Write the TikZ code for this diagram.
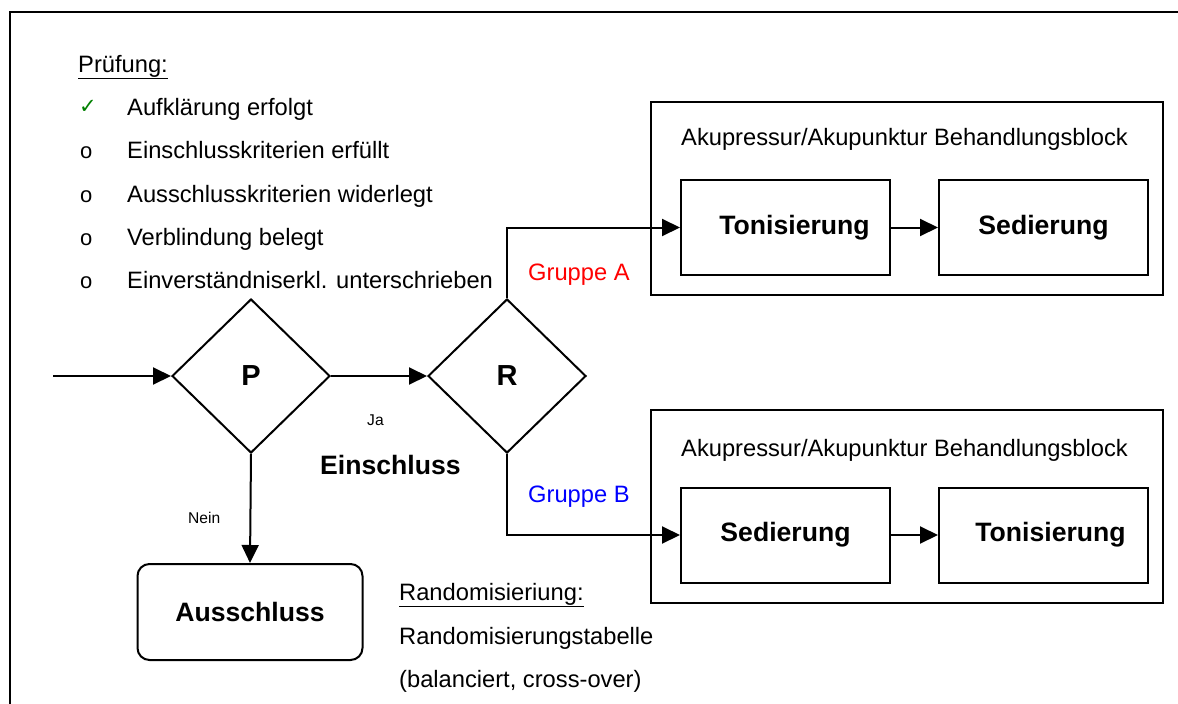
\documentclass[tikz,border=0pt]{standalone}
\usepackage{fontspec}
\setmainfont{Liberation Sans}
\newfontfamily\dejavu{DejaVu Sans}
\usepackage{tikz}
\usetikzlibrary{arrows.meta,positioning,shapes.geometric}
\definecolor{okgreen}{RGB}{0,128,0}
\definecolor{grpa}{RGB}{255,0,0}
\definecolor{grpb}{RGB}{0,0,255}
\tikzset{
  flow/.style={-{Triangle[length=18pt,width=17pt]},line width=2pt},
  boldtxt/.style={font=\fontsize{26.6}{30}\selectfont\bfseries},
  plain/.style={font=\fontsize{23.7}{28}\selectfont,anchor=base west,inner sep=0pt}
}
\begin{document}
\begin{tikzpicture}[x=1pt,y=-1pt,
  tiny/.style={font=\fontsize{15.6}{18}\selectfont,anchor=base west,inner sep=0pt},
  dec/.style={draw,diamond,line width=2pt,minimum width=158pt,minimum height=154pt,inner sep=0pt,
    font=\fontsize{29}{32}\selectfont\bfseries},
  stepbox/.style={draw,line width=2pt,minimum width=209pt,minimum height=95pt,inner sep=0pt,boldtxt},
  blk/.style={draw,line width=2pt,minimum width=512pt,minimum height=193pt,inner sep=0pt},
  bul/.style={font=\fontsize{22}{24}\selectfont,anchor=base west,inner sep=0pt}]
\useasboundingbox (0,0) rectangle (1178,704);
% frame
\draw[line width=2pt] (10,704) -- (10,12) -- (1178,12);
% check list
\node[plain] (pruef) at (78,72) {\underline{Prüfung:}};
\node[bul,text=okgreen] (b1) at (79,113) {\dejavu\fontsize{21}{24}\selectfont ✓};
\node[bul] (b2) at (80,158) {o};
\node[bul] (b3) at (80,202) {o};
\node[bul] (b4) at (80,245) {o};
\node[bul] (b5) at (80,288) {o};
\node[plain] (i1) at (127,115) {Aufklärung erfolgt};
\node[plain] (i2) at (127,158) {Einschlusskriterien erfüllt};
\node[plain] (i3) at (127,202) {Ausschlusskriterien widerlegt};
\node[plain] (i4) at (127,245) {Verblindung belegt};
\node[plain] (i5) at (127,288) {Einverständniserkl. unterschrieben};
% decisions
\coordinate (start) at (53,376);
\node[dec] (P) at (251,376) {P};
\node[dec] (R) at (507,376) {R};
\node[draw,rounded corners=12pt,line width=2pt,minimum width=225pt,
  minimum height=96pt,boldtxt] (Aus) at (250,612) {Ausschluss};
% treatment blocks
\node[blk] (blkA) at (907,198.5) {};
\node[blk] (blkB) at (907,506.5) {};
\node[plain] (titA) at (681,145) {Akupressur/Akupunktur Behandlungsblock};
\node[plain] (titB) at (681,456) {Akupressur/Akupunktur Behandlungsblock};
\node[stepbox,text width=209pt,align=center] (TonA) at (785.5,227.5) {\hspace*{18pt}Tonisierung};
\node[stepbox] (SedA) at (1043.5,227.5) {Sedierung};
\node[stepbox] (SedB) at (785.5,535) {Sedierung};
\node[stepbox,text width=209pt,align=center] (TonB) at (1043.5,535) {\hspace*{14pt}Tonisierung};
% connectors
\draw[flow] (start) -- (P.west);
\draw[flow] (P.east) -- (R.west);
\draw[flow] (P.south) -- (Aus.north);
\draw[flow] (R.north) |- (TonA.west);
\draw[flow] (R.south) |- (SedB.west);
\draw[flow] (TonA) -- (SedA);
\draw[flow] (SedB) -- (TonB);
% labels
\node[tiny] (ja) at (367,425) {Ja};
\node[tiny] (nein) at (188,523) {Nein};
\node[boldtxt,anchor=base west,inner sep=0pt] (ein) at (320,474) {Einschluss};
\node[plain,text=grpa] (ga) at (528,280) {Gruppe A};
\node[plain,text=grpb] (gb) at (528,502) {Gruppe B};
\node[plain] (rand) at (399,600) {\underline{Randomisieriung:}};
\node[plain] (tab) at (399,644) {Randomisierungstabelle};
\node[plain] (bal) at (399,687) {(balanciert, cross-over)};
\end{tikzpicture}
\end{document}
